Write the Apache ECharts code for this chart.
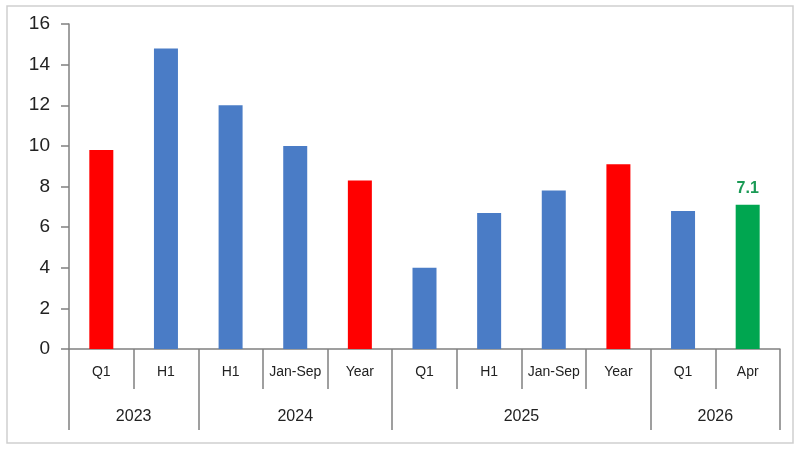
<!DOCTYPE html>
<html>
<head>
<meta charset="utf-8">
<script src="https://cdn.jsdelivr.net/npm/echarts@6/dist/echarts.min.js"></script>
<style>
  html, body { margin: 0; padding: 0; background: #fff; }
  #chart { width: 800px; height: 450px; }
</style>
</head>
<body>
<div id="chart"></div>
<script>
    // 数据
    var periods = ['Q1', 'H1', 'H1', 'Jan-Sep', 'Year', 'Q1', 'H1', 'Jan-Sep', 'Year', 'Q1', 'Apr'];
    var values = [9.8, 14.8, 12.0, 10.0, 8.3, 4.0, 6.7, 7.8, 9.1, 6.8, 7.1];
    var barKinds = ['red', 'blue', 'blue', 'blue', 'red', 'blue', 'blue', 'blue', 'red', 'blue', 'green'];
    var years = ['2023', '2024', '2025', '2026'];
    var yearSizes = [2, 3, 4, 2];
    var yTicks = [0, 2, 4, 6, 8, 10, 12, 14, 16];

    var colorMap = { red: '#ff0000', blue: '#4a7cc6', green: '#00a650' };
    var lineColor = '#808080';

    // 年份轴: 半格刻度 (boundaryGap false, 2*n+1 个位置)
    var yearAxisData = [];
    var yearTickIdx = [0];
    var pos = 0;
    for (var i = 0; i <= periods.length * 2; i++) yearAxisData.push('');
    for (var g = 0; g < years.length; g++) {
        yearAxisData[pos + yearSizes[g]] = years[g];
        pos += yearSizes[g] * 2;
        yearTickIdx.push(pos);
    }

    var barData = values.map(function (v, i) {
        var item = { value: v, itemStyle: { color: colorMap[barKinds[i]] } };
        if (barKinds[i] === 'green') {
            item.label = {
                show: true, position: 'top', distance: 8,
                color: '#1a9a55', fontSize: 16, fontWeight: 'bold',
                fontFamily: 'Liberation Sans'
            };
        }
        return item;
    });

    var myChart = echarts.init(document.getElementById('chart'));
    var option = {
        animation: false,
        backgroundColor: '#fff',
        textStyle: { fontFamily: 'Liberation Sans' },
        graphic: [{
            type: 'rect',
            shape: { x: 7, y: 6, width: 786, height: 437 },
            style: { fill: 'none', stroke: '#cfcfcf', lineWidth: 1.5 },
            silent: true
        }],
        grid: { left: 69, right: 20, top: 24, bottom: 101 },
        xAxis: [
            {
                type: 'category',
                data: periods,
                position: 'bottom',
                axisLine: { show: true, lineStyle: { color: lineColor, width: 1.5 } },
                axisTick: { show: true, length: 40, lineStyle: { color: lineColor, width: 1.5 } },
                axisLabel: { color: '#222', fontSize: 14, margin: 16, interval: 0 }
            },
            {
                type: 'category',
                data: yearAxisData,
                boundaryGap: false,
                position: 'bottom',
                axisLine: { show: false },
                axisTick: {
                    show: true, length: 81,
                    interval: function (index) { return yearTickIdx.indexOf(index) >= 0; },
                    lineStyle: { color: lineColor, width: 1.5 }
                },
                axisLabel: {
                    color: '#222', fontSize: 16, margin: 60,
                    interval: function (index, value) { return value !== ''; }
                }
            }
        ],
        yAxis: {
            type: 'value',
            min: yTicks[0],
            max: yTicks[yTicks.length - 1],
            interval: 2,
            axisLine: { show: true, lineStyle: { color: lineColor, width: 1.5 } },
            axisTick: { show: true, length: 8, lineStyle: { color: lineColor, width: 1.5 } },
            splitLine: { show: false },
            axisLabel: { color: '#222', fontSize: 19, margin: 19 }
        },
        series: [{
            type: 'bar',
            xAxisIndex: 0,
            barWidth: 24,
            data: barData
        }]
    };
    myChart.setOption(option);
</script>
</body>
</html>
